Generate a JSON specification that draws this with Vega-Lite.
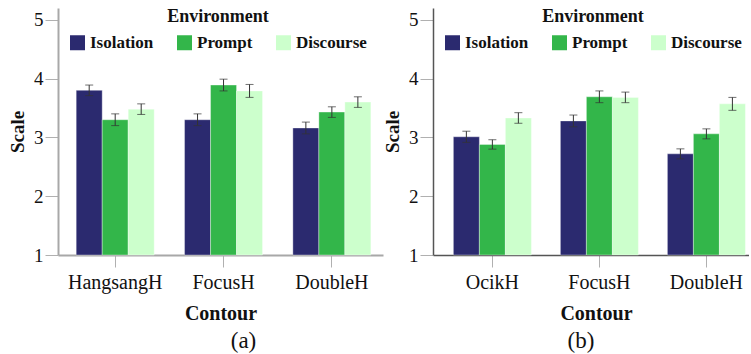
{
  "$schema": "https://vega.github.io/schema/vega-lite/v6.json",
  "padding": {"left": 8, "top": 8, "right": 0, "bottom": 0},
  "background": "white",
  "spacing": 0,
  "config": {
    "view": {"stroke": null},
    "font": "Liberation Serif",
    "axis": {"grid": false, "labelFont": "Liberation Serif", "titleFont": "Liberation Serif"},
    "legend": {"labelFont": "Liberation Serif", "titleFont": "Liberation Serif"},
    "title": {"font": "Liberation Serif"}
  },
  "datasets": {
    "a": [
      {"contour": "HangsangH", "env": "Isolation", "mean": 3.80, "lo": 3.71, "hi": 3.89},
      {"contour": "HangsangH", "env": "Prompt", "mean": 3.30, "lo": 3.20, "hi": 3.40},
      {"contour": "HangsangH", "env": "Discourse", "mean": 3.48, "lo": 3.39, "hi": 3.57},
      {"contour": "FocusH", "env": "Isolation", "mean": 3.30, "lo": 3.20, "hi": 3.40},
      {"contour": "FocusH", "env": "Prompt", "mean": 3.89, "lo": 3.79, "hi": 3.99},
      {"contour": "FocusH", "env": "Discourse", "mean": 3.79, "lo": 3.68, "hi": 3.90},
      {"contour": "DoubleH", "env": "Isolation", "mean": 3.16, "lo": 3.06, "hi": 3.26},
      {"contour": "DoubleH", "env": "Prompt", "mean": 3.43, "lo": 3.34, "hi": 3.52},
      {"contour": "DoubleH", "env": "Discourse", "mean": 3.60, "lo": 3.51, "hi": 3.69}
    ],
    "b": [
      {"contour": "OcikH", "env": "Isolation", "mean": 3.01, "lo": 2.915, "hi": 3.105},
      {"contour": "OcikH", "env": "Prompt", "mean": 2.88, "lo": 2.80, "hi": 2.96},
      {"contour": "OcikH", "env": "Discourse", "mean": 3.33, "lo": 3.24, "hi": 3.42},
      {"contour": "FocusH", "env": "Isolation", "mean": 3.28, "lo": 3.18, "hi": 3.38},
      {"contour": "FocusH", "env": "Prompt", "mean": 3.69, "lo": 3.59, "hi": 3.79},
      {"contour": "FocusH", "env": "Discourse", "mean": 3.68, "lo": 3.59, "hi": 3.77},
      {"contour": "DoubleH", "env": "Isolation", "mean": 2.72, "lo": 2.635, "hi": 2.805},
      {"contour": "DoubleH", "env": "Prompt", "mean": 3.06, "lo": 2.975, "hi": 3.145},
      {"contour": "DoubleH", "env": "Discourse", "mean": 3.57, "lo": 3.46, "hi": 3.68}
    ]
  },
  "hconcat": [
    {
      "data": {"name": "a"},
      "width": 325,
      "height": 247,
      "title": {"text": "(a)", "orient": "bottom", "frame": "group", "anchor": "middle", "dx": 23, "fontSize": 23, "fontWeight": "normal", "offset": 7, "color": "#111"},
      "encoding": {
        "x": {"field": "contour", "type": "nominal", "sort": ["HangsangH", "FocusH", "DoubleH"],
          "scale": {"paddingInner": 0.28, "paddingOuter": 0.14, "align": 0.6},
          "axis": {"title": "Contour", "titleFontSize": 20, "titleFontWeight": "bold", "titlePadding": 11, "titleColor": "#111",
            "labelFontSize": 20, "labelAngle": 0, "labelPadding": 5, "labelColor": "#111",
            "tickSize": 12, "tickColor": "#b0b0b0", "domainColor": "#a8a8a8", "domainWidth": 2}},
        "xOffset": {"field": "env", "type": "nominal", "sort": ["Isolation", "Prompt", "Discourse"], "scale": {"paddingInner": 0, "paddingOuter": 0}}
      },
      "layer": [
        {
          "mark": {"type": "bar", "stroke": "#ffffff", "strokeOpacity": 0.35, "strokeWidth": 1},
          "encoding": {
            "y": {"field": "mean", "type": "quantitative", "scale": {"domain": [1, 5.2], "nice": false, "zero": false},
              "axis": {"title": "Scale", "titleFontSize": 19, "titleFontWeight": "bold", "titlePadding": 6, "titleColor": "#111",
                "values": [1, 2, 3, 4, 5], "format": "d", "labelFontSize": 19, "labelPadding": 2, "labelColor": "#111",
                "tickSize": 13, "tickColor": "#b0b0b0", "domainColor": "#a8a8a8", "domainWidth": 2}},
            "y2": {"datum": 1},
            "color": {"field": "env", "type": "nominal", "sort": ["Isolation", "Prompt", "Discourse"],
              "scale": {"domain": ["Isolation", "Prompt", "Discourse"], "range": ["#2b2a6f", "#33b64a", "#ccffcc"]},
              "legend": {"orient": "none", "legendX": 11, "legendY": 0, "direction": "horizontal", "title": "Environment",
                "titleFontSize": 18, "titleFontWeight": "bold", "titleAnchor": "middle", "titlePadding": 8, "titleColor": "#111",
                "labelFontSize": 17, "labelFontWeight": "bold", "labelColor": "#111", "labelOffset": 4,
                "symbolType": "square", "symbolSize": 225, "symbolStrokeWidth": 0, "symbolOpacity": 1, "columnPadding": 22}}
          }
        },
        {
          "mark": {"type": "rule", "color": "#333333", "strokeWidth": 1},
          "encoding": {"y": {"field": "lo", "type": "quantitative"}, "y2": {"field": "hi"}}
        },
        {
          "mark": {"type": "tick", "color": "#333333", "size": 8, "thickness": 1},
          "encoding": {"y": {"field": "lo", "type": "quantitative"}}
        },
        {
          "mark": {"type": "tick", "color": "#333333", "size": 8, "thickness": 1},
          "encoding": {"y": {"field": "hi", "type": "quantitative"}}
        }
      ]
    },
    {
      "data": {"name": "b"},
      "width": 316,
      "height": 247,
      "title": {"text": "(b)", "orient": "bottom", "frame": "group", "anchor": "middle", "dx": -10, "fontSize": 23, "fontWeight": "normal", "offset": 7, "color": "#111"},
      "encoding": {
        "x": {"field": "contour", "type": "nominal", "sort": ["OcikH", "FocusH", "DoubleH"],
          "scale": {"paddingInner": 0.271, "paddingOuter": 0.112, "align": 0.85},
          "axis": {"title": "Contour", "titleFontSize": 20, "titleFontWeight": "bold", "titlePadding": 11, "titleColor": "#111", "titleX": 163,
            "labelFontSize": 20, "labelAngle": 0, "labelPadding": 5, "labelColor": "#111",
            "tickSize": 12, "tickColor": "#b0b0b0", "domainColor": "#555555", "domainWidth": 1.5}},
        "xOffset": {"field": "env", "type": "nominal", "sort": ["Isolation", "Prompt", "Discourse"], "scale": {"paddingInner": 0, "paddingOuter": 0}}
      },
      "layer": [
        {
          "mark": {"type": "bar", "stroke": "#ffffff", "strokeOpacity": 0.35, "strokeWidth": 1},
          "encoding": {
            "y": {"field": "mean", "type": "quantitative", "scale": {"domain": [1, 5.2], "nice": false, "zero": false},
              "axis": {"title": "Scale", "titleFontSize": 19, "titleFontWeight": "bold", "titlePadding": 6, "titleColor": "#111",
                "values": [1, 2, 3, 4, 5], "format": "d", "labelFontSize": 19, "labelPadding": 2, "labelColor": "#111",
                "tickSize": 13, "tickColor": "#b0b0b0", "domainColor": "#555555", "domainWidth": 1.5}},
            "y2": {"datum": 1},
            "color": {"field": "env", "type": "nominal", "sort": ["Isolation", "Prompt", "Discourse"],
              "scale": {"domain": ["Isolation", "Prompt", "Discourse"], "range": ["#2b2a6f", "#33b64a", "#ccffcc"]},
              "legend": {"orient": "none", "legendX": 11, "legendY": 0, "direction": "horizontal", "title": "Environment",
                "titleFontSize": 18, "titleFontWeight": "bold", "titleAnchor": "middle", "titlePadding": 8, "titleColor": "#111",
                "labelFontSize": 17, "labelFontWeight": "bold", "labelColor": "#111", "labelOffset": 4,
                "symbolType": "square", "symbolSize": 225, "symbolStrokeWidth": 0, "symbolOpacity": 1, "columnPadding": 22}}
          }
        },
        {
          "mark": {"type": "rule", "color": "#333333", "strokeWidth": 1},
          "encoding": {"y": {"field": "lo", "type": "quantitative"}, "y2": {"field": "hi"}}
        },
        {
          "mark": {"type": "tick", "color": "#333333", "size": 8, "thickness": 1},
          "encoding": {"y": {"field": "lo", "type": "quantitative"}}
        },
        {
          "mark": {"type": "tick", "color": "#333333", "size": 8, "thickness": 1},
          "encoding": {"y": {"field": "hi", "type": "quantitative"}}
        }
      ]
    }
  ],
  "resolve": {"scale": {"color": "independent"}, "legend": {"color": "independent"}}
}
